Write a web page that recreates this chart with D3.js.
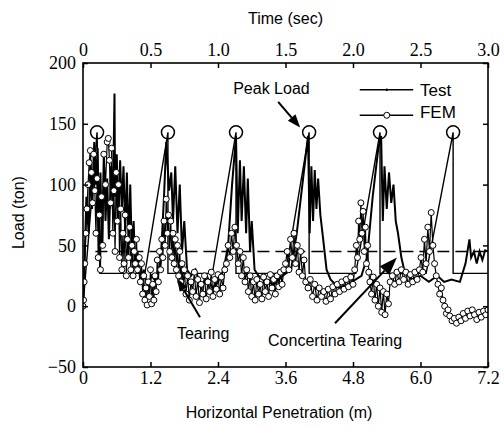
<!DOCTYPE html>
<html><head><meta charset="utf-8">
<script src="https://cdn.jsdelivr.net/npm/d3@7"></script>
<style>
html,body{margin:0;padding:0;background:#fff;}
svg{display:block;}
</style></head>
<body>
<svg id="c" width="504" height="426"></svg>
<script>
// ---------- data ----------
const xTicks = [0, 1.2, 2.4, 3.6, 4.8, 6.0, 7.2];
const tTicks = [0, 0.5, 1.0, 1.5, 2.0, 2.5, 3.0];
const yTicks = [-50, 0, 50, 100, 150, 200];

// Test (measured) load vs penetration
const testX = [0.00,0.03,0.06,0.10,0.13,0.16,0.20,0.23,0.26,0.28,0.31,0.34,0.37,0.40,0.43,0.46,0.50,0.53,0.56,0.57,0.60,0.63,0.66,0.69,0.72,0.75,0.78,0.81,0.84,0.87,0.90,0.93,0.97,1.02,1.08,1.15,1.22,1.30,1.38,1.44,1.48,1.53,1.57,1.60,1.64,1.68,1.72,1.76,1.80,1.85,1.92,2.00,2.10,2.20,2.30,2.40,2.50,2.58,2.65,2.72,2.75,2.79,2.82,2.86,2.90,2.93,2.97,3.00,3.05,3.12,3.25,3.40,3.55,3.70,3.80,3.90,4.00,4.03,4.06,4.09,4.12,4.15,4.18,4.22,4.27,4.33,4.40,4.55,4.70,4.85,4.95,5.05,5.15,5.25,5.30,5.33,5.36,5.40,5.44,5.48,5.52,5.56,5.60,5.66,5.72,5.85,6.00,6.15,6.30,6.42,6.55,6.70,6.80,6.87,6.90,6.95,7.00,7.05,7.10,7.15,7.20];
const testY = [0,40,90,60,120,80,135,100,130,60,110,50,125,70,105,55,115,80,175,90,125,70,120,80,115,60,110,50,100,40,70,30,45,20,30,15,25,20,35,90,135,95,110,70,115,60,100,45,70,30,25,30,15,25,15,20,30,50,100,140,60,120,70,115,60,105,45,70,30,25,20,18,25,30,60,100,140,60,115,70,112,80,105,75,55,30,22,15,18,22,25,40,90,130,140,70,115,80,110,85,100,70,60,40,28,22,25,20,25,20,22,20,35,55,40,45,35,45,38,46,45];

// FEM load vs penetration
const femX = [0.00,0.01,0.02,0.03,0.05,0.07,0.09,0.11,0.13,0.15,0.17,0.19,0.21,0.23,0.25,0.27,0.29,0.31,0.33,0.35,
0.37,0.40,0.43,0.45,0.47,0.49,0.51,0.53,0.55,0.57,0.59,0.61,0.63,0.65,0.67,0.69,0.71,0.73,0.75,0.77,0.79,0.81,0.83,0.85,0.87,0.89,0.91,0.93,0.95,0.97,
1.00,1.02,1.04,1.06,1.08,1.10,1.12,1.14,1.16,1.18,1.20,1.22,1.24,1.26,1.28,1.30,1.32,1.34,1.36,1.38,
1.40,1.42,1.44,1.46,1.48,1.50,1.52,1.54,1.56,1.58,1.60,1.62,1.64,1.66,1.68,1.70,1.72,1.74,1.76,1.78,
1.80,1.83,1.86,1.89,1.92,1.95,1.98,2.01,2.04,2.07,2.10,2.13,2.16,2.19,2.22,2.25,2.28,2.31,2.34,2.37,2.40,2.43,2.46,2.49,2.52,
2.55,2.58,2.61,2.64,2.67,2.70,2.73,2.76,2.79,2.82,2.85,2.88,2.91,
2.94,2.97,3.00,3.03,3.06,3.09,3.12,3.15,3.18,3.21,3.24,3.27,3.30,3.33,3.36,3.39,3.42,3.45,3.48,3.51,3.54,3.57,
3.60,3.63,3.66,3.69,3.72,3.75,3.78,3.81,3.84,3.87,3.90,3.93,3.96,
4.00,4.04,4.08,4.12,4.16,4.20,4.24,4.28,4.32,4.36,4.40,4.44,4.48,4.52,4.56,4.60,4.64,4.68,4.72,4.76,4.80,
4.83,4.86,4.88,4.90,4.92,4.94,4.96,4.98,5.00,5.02,5.04,5.06,5.08,
5.10,5.13,5.16,5.19,5.22,5.25,5.28,5.31,5.34,5.37,5.40,5.43,5.46,
5.50,5.54,5.58,5.62,5.66,5.70,5.74,5.78,5.82,5.86,5.90,5.94,5.98,
6.01,6.04,6.07,6.10,6.13,6.16,6.19,6.22,6.25,
6.28,6.31,6.34,6.37,6.40,6.43,6.46,6.49,
6.52,6.56,6.60,6.64,6.68,6.72,6.76,6.80,6.84,6.88,6.92,6.96,7.00,7.04,7.08,7.12,7.16,7.20];
const femY = [0,5,20,35,60,80,100,118,128,110,85,125,95,60,105,40,75,30,90,50,
125,100,135,138,120,85,130,60,95,45,110,70,100,40,80,30,60,35,75,25,55,40,65,30,50,25,45,35,55,30,
40,20,35,10,25,5,15,1,20,8,30,2,18,5,25,12,38,20,45,30,
55,40,70,50,88,60,75,45,70,40,60,35,55,30,50,25,45,20,35,15,
30,10,25,5,20,12,28,8,22,3,18,10,25,6,20,12,28,8,22,14,26,10,24,15,30,
35,50,40,60,45,65,50,35,45,25,40,20,30,
12,25,8,20,5,22,10,18,6,24,12,20,8,26,15,22,10,25,16,28,18,30,
35,45,30,55,40,60,35,50,28,45,25,38,20,
15,22,8,18,5,15,8,12,4,14,6,16,10,18,12,20,14,22,16,24,18,
30,50,40,70,55,85,60,78,45,65,35,50,28,
20,10,24,5,18,0,15,-5,12,-7,10,2,20,
25,18,28,20,30,22,28,18,26,20,28,22,30,
40,28,55,35,65,45,77,50,35,
25,18,10,15,5,0,-6,-3,
-8,-12,-10,-14,-9,-12,-6,-10,-4,-8,-3,-7,-11,-5,-9,-4,-7,-3];

// idealised saw-tooth (peak load model) and mean load
const peakX = [0.25, 1.51, 2.72, 4.02, 5.28, 6.58];
const peakLoad = 143;
const meanLoad = 45;
const sawX = [0.00, 0.25, 0.30, 1.10, 1.51, 1.51, 2.30, 2.72, 2.72, 3.60, 4.02, 4.02, 4.85, 5.28, 5.28, 6.10, 6.58, 6.58, 7.20];
const sawY = [0, 143, 27, 27, 143, 27, 27, 143, 27, 27, 143, 27, 27, 143, 27, 27, 143, 27, 27];

// ---------- drawing ----------
const svg = d3.select("#c");
const L = 83, R = 488, T = 63, B = 367;
const x = d3.scaleLinear().domain([0, 7.2]).range([L, R]);
const xt = d3.scaleLinear().domain([0, 3.0]).range([L, R]);
const y = d3.scaleLinear().domain([-50, 200]).range([B, T]);
const fmt = d => d === 0 ? "0" : d3.format(".1f")(d);

const line = d3.line().x(d => x(d[0])).y(d => y(d[1]));

svg.append("clipPath").attr("id", "clip").append("rect")
  .attr("x", L).attr("y", T).attr("width", R - L).attr("height", B - T);
const plot = svg.append("g").attr("clip-path", "url(#clip)");

// mean dashed line
plot.append("path")
  .attr("d", line([[0.22, meanLoad], [7.2, meanLoad]]))
  .attr("fill", "none").attr("stroke", "#000").attr("stroke-width", 1.6)
  .attr("stroke-dasharray", "12,6");

// saw tooth
plot.append("path")
  .attr("d", line(sawX.map((v, i) => [v, sawY[i]])))
  .attr("fill", "none").attr("stroke", "#000").attr("stroke-width", 1.4);

// FEM line
const femPts = femX.map((v, i) => [v, femY[i]]);
plot.append("path").attr("d", line(femPts))
  .attr("fill", "none").attr("stroke", "#000").attr("stroke-width", 1.2);

// test line
plot.append("path")
  .attr("d", line(testX.map((v, i) => [v, testY[i]])))
  .attr("fill", "none").attr("stroke", "#000").attr("stroke-width", 2);

// FEM markers
plot.selectAll("circle.fem").data(femPts).enter().append("circle")
  .attr("class", "fem").attr("cx", d => x(d[0])).attr("cy", d => y(d[1]))
  .attr("r", 3).attr("fill", "#fff").attr("stroke", "#000").attr("stroke-width", 1);

// peak circles
svg.selectAll("circle.peak").data(peakX).enter().append("circle")
  .attr("class", "peak").attr("cx", d => x(d)).attr("cy", y(peakLoad))
  .attr("r", 6.5).attr("fill", "none").attr("stroke", "#000").attr("stroke-width", 1.5);

// frame
svg.append("rect").attr("x", L).attr("y", T).attr("width", R - L).attr("height", B - T)
  .attr("fill", "none").attr("stroke", "#000").attr("stroke-width", 1.6);

// axes
const gB = svg.append("g").attr("transform", `translate(0,${B})`)
  .call(d3.axisBottom(x).tickValues(xTicks).tickFormat(fmt).tickSizeInner(-5).tickSizeOuter(0).tickPadding(4));
const gT = svg.append("g").attr("transform", `translate(0,${T})`)
  .call(d3.axisTop(xt).tickValues(tTicks).tickFormat(fmt).tickSizeInner(-5).tickSizeOuter(0).tickPadding(7));
const gL = svg.append("g").attr("transform", `translate(${L},0)`)
  .call(d3.axisLeft(y).tickValues(yTicks).tickSizeInner(-5).tickSizeOuter(0).tickPadding(7));
const gR = svg.append("g").attr("transform", `translate(${R},0)`)
  .call(d3.axisRight(y).tickValues(yTicks).tickFormat("").tickSizeInner(-5).tickSizeOuter(0));
[gB, gT, gL, gR].forEach(g => {
  g.select(".domain").remove();
  g.selectAll("line").attr("stroke", "#000").attr("stroke-width", 1.5);
  g.selectAll("text").attr("font-size", 18).attr("fill", "#000")
    .attr("font-family", "'Liberation Serif','Times New Roman',serif");
});

// axis titles
const sans = "'Liberation Sans',Arial,Helvetica,sans-serif";
svg.append("text").attr("x", (L + R) / 2).attr("y", 24).attr("text-anchor", "middle")
  .attr("font-family", sans).attr("font-size", 16).text("Time (sec)");
svg.append("text").attr("x", 279).attr("y", 418).attr("text-anchor", "middle")
  .attr("font-family", sans).attr("font-size", 16).text("Horizontal Penetration (m)");
svg.append("text").attr("transform", `translate(24,${y(77)}) rotate(-90)`).attr("text-anchor", "middle")
  .attr("font-family", sans).attr("font-size", 16).text("Load (ton)");

// legend
const lg = svg.append("g");
lg.append("path").attr("d", line([[4.92, 178], [5.87, 178]])).attr("stroke", "#000").attr("stroke-width", 1.4);
lg.append("circle").attr("cx", x(5.40)).attr("cy", y(178)).attr("r", 1.2).attr("fill", "#000");
lg.append("path").attr("d", line([[4.92, 157], [5.87, 157]])).attr("stroke", "#000").attr("stroke-width", 1.4);
lg.append("circle").attr("cx", x(5.40)).attr("cy", y(157)).attr("r", 3).attr("fill", "#fff").attr("stroke", "#000");
lg.append("text").attr("x", x(5.99)).attr("y", y(173)).attr("font-family", sans).attr("font-size", 17).text("Test");
lg.append("text").attr("x", x(5.99)).attr("y", y(155)).attr("font-family", sans).attr("font-size", 17).text("FEM");

// annotations
function arrow(x0, y0, x1, y1, len, wid) {
  const X0 = x(x0), Y0 = y(y0), X1 = x(x1), Y1 = y(y1);
  const a = Math.atan2(Y1 - Y0, X1 - X0);
  const bx = X1 - len * Math.cos(a), by = Y1 - len * Math.sin(a);
  svg.append("line").attr("x1", X0).attr("y1", Y0).attr("x2", bx).attr("y2", by)
    .attr("stroke", "#000").attr("stroke-width", 2);
  const px = -Math.sin(a) * wid / 2, py = Math.cos(a) * wid / 2;
  svg.append("path").attr("d", `M${X1},${Y1}L${bx + px},${by + py}L${bx - px},${by - py}Z`).attr("fill", "#000");
}
svg.append("text").attr("x", x(2.67)).attr("y", y(174.5)).attr("font-family", sans).attr("font-size", 16).text("Peak Load");
arrow(3.47, 168, 3.86, 147, 13, 10);
svg.append("text").attr("x", x(1.67)).attr("y", y(-27)).attr("font-family", sans).attr("font-size", 16).text("Tearing");
arrow(2.08, -9, 1.67, 23, 13, 9);
svg.append("text").attr("x", x(3.29)).attr("y", y(-33)).attr("font-family", sans).attr("font-size", 16).text("Concertina Tearing");
arrow(4.48, -14, 5.58, 40, 18, 13);
</script>
</body></html>
